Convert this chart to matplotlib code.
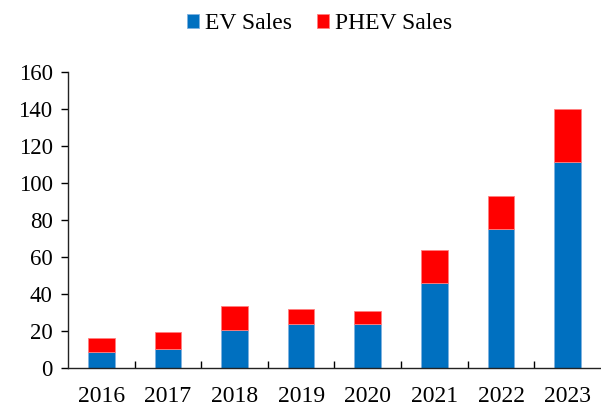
import numpy as np
import matplotlib.pyplot as plt

plt.rcParams['font.family'] = ['Liberation Serif', 'DejaVu Serif']

# Sales data
years = ['2016', '2017', '2018', '2019', '2020', '2021', '2022', '2023']
ev_sales = [8.8, 10.6, 20.8, 23.7, 24.1, 46.3, 75.0, 111.2]
phev_sales = [7.4, 9.2, 12.6, 8.5, 7.1, 17.7, 18.2, 29.1]

x = np.arange(len(years))

fig = plt.figure(figsize=(6.01, 4.07), dpi=100)
ax = fig.add_axes([0.113, 0.095, 0.887, 0.728])

ax.bar(x, ev_sales, width=0.4, color='#0070C0', edgecolor='#7FB2E0',
       linewidth=0.6, label='EV Sales')
ax.bar(x, phev_sales, width=0.4, bottom=ev_sales, color='#FF0000',
       edgecolor='#FF8080', linewidth=0.6, label='PHEV Sales')

ax.set_xlim(-0.5, len(years) - 0.5)
ax.set_ylim(0, 160)
ax.set_yticks(range(0, 161, 20))
ax.set_xticks(x)
ax.set_xticklabels(years)
ax.set_xticks(x[:-1] + 0.5, minor=True)

ax.tick_params(axis='x', which='major', length=0, labelsize=17, pad=13)
ax.tick_params(axis='x', which='minor', direction='in', length=5, width=1)
ax.tick_params(axis='y', length=5, width=1, labelsize=16.5, pad=6)

for s in ['top', 'right']:
    ax.spines[s].set_visible(False)
for s in ['left', 'bottom']:
    ax.spines[s].set_linewidth(1)
    ax.spines[s].set_color('#222222')

fig.legend(loc='upper center', bbox_to_anchor=(0.532, 1.02), ncol=2,
           frameon=False, fontsize=17, handlelength=0.51, handleheight=0.51,
           handletextpad=0.25, columnspacing=1.05)

fig.savefig('out.png', dpi=100)
